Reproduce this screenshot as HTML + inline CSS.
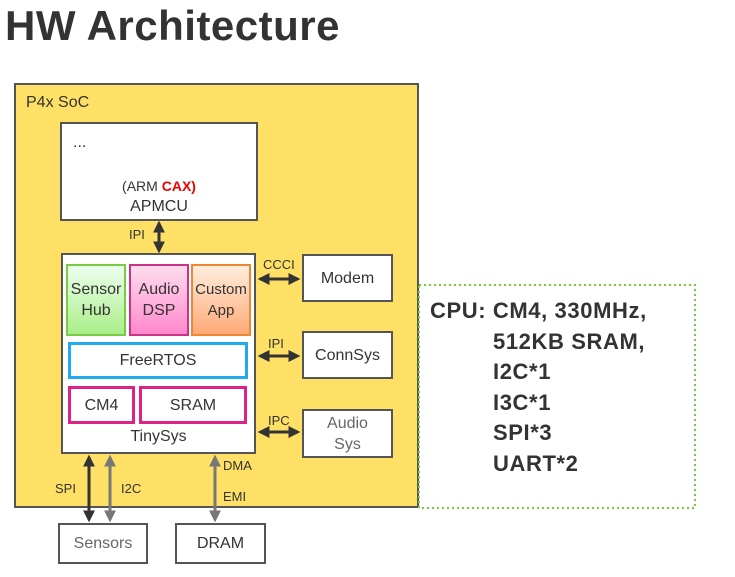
<!DOCTYPE html><html><head><style>
body{margin:0;width:735px;height:577px;background:#fff;position:relative;overflow:hidden;font-family:"Liberation Sans",sans-serif;color:#333}
.a{position:absolute;box-sizing:border-box}
.b{position:absolute;box-sizing:border-box;border:2px solid #555;background:#fff;display:flex;align-items:center;justify-content:center;text-align:center;font-size:16px;line-height:21px}
.t{position:absolute;font-size:13px;color:#333}
</style></head><body>
<div class="a" style="left:5px;top:2px;font-size:42px;font-weight:bold;color:#333;letter-spacing:0.5px">HW Architecture</div>
<div class="a" style="left:14px;top:83px;width:405px;height:425px;background:#FFE066;border:2px solid #555"></div>
<div class="t" style="left:26px;top:94px;font-size:16px">P4x SoC</div>
<div class="b" style="left:60px;top:122px;width:198px;height:99px;display:block">
<div style="position:absolute;left:11px;top:8px">...</div>
<div style="position:absolute;left:0;right:0;top:52px;font-size:14px">(ARM <b style="color:#e00">CAX)</b></div>
<div style="position:absolute;left:0;right:0;top:72px">APMCU</div></div>
<div class="b" style="left:61px;top:253px;width:195px;height:201px;display:block">
<div style="position:absolute;left:0;right:0;bottom:5px">TinySys</div></div>
<div class="b" style="left:66px;top:264px;width:60px;height:72px;border-color:#7c4;background:linear-gradient(#efe,#ae8)">Sensor<br>Hub</div>
<div class="b" style="left:129px;top:264px;width:60px;height:72px;border-color:#c38;background:linear-gradient(#fde,#f8c)">Audio<br>DSP</div>
<div class="b" style="left:191px;top:264px;width:60px;height:72px;border-color:#e83;background:linear-gradient(#fed,#fa7);font-size:15px">Custom<br>App</div>
<div class="b" style="left:68px;top:342px;width:180px;height:37px;border:3px solid #2ae">FreeRTOS</div>
<div class="b" style="left:68px;top:386px;width:67px;height:38px;border:3px solid #d28">CM4</div>
<div class="b" style="left:139px;top:386px;width:108px;height:38px;border:3px solid #d28">SRAM</div>
<div class="b" style="left:302px;top:254px;width:91px;height:48px">Modem</div>
<div class="b" style="left:302px;top:331px;width:91px;height:48px">ConnSys</div>
<div class="b" style="left:302px;top:409px;width:91px;height:49px;color:#666">Audio<br>Sys</div>
<div class="b" style="left:58px;top:523px;width:90px;height:41px;color:#666">Sensors</div>
<div class="b" style="left:175px;top:523px;width:91px;height:41px">DRAM</div>
<svg class="a" style="left:0;top:0" width="735" height="577">
<defs><marker id="m" viewBox="0 0 10 10" refX="8" refY="5" markerWidth="4" markerHeight="4" orient="auto-start-reverse"><path d="M0,0L10,5L0,10z" fill="#333"/></marker>
<marker id="g" viewBox="0 0 10 10" refX="8" refY="5" markerWidth="4" markerHeight="4" orient="auto-start-reverse"><path d="M0,0L10,5L0,10z" fill="#777"/></marker></defs>
<g stroke="#333" stroke-width="3">
<line x1="159" y1="223" x2="159" y2="251" marker-start="url(#m)" marker-end="url(#m)"/>
<line x1="260" y1="279" x2="298" y2="279" marker-start="url(#m)" marker-end="url(#m)"/>
<line x1="260" y1="356" x2="298" y2="356" marker-start="url(#m)" marker-end="url(#m)"/>
<line x1="260" y1="432" x2="298" y2="432" marker-start="url(#m)" marker-end="url(#m)"/>
<line x1="89" y1="457" x2="89" y2="520" marker-start="url(#m)" marker-end="url(#m)"/>
</g>
<g stroke="#777" stroke-width="3">
<line x1="110" y1="457" x2="110" y2="520" marker-start="url(#g)" marker-end="url(#g)"/>
<line x1="215" y1="457" x2="215" y2="520" marker-start="url(#g)" marker-end="url(#g)"/>
</g>
<rect x="419" y="285" width="276" height="223" fill="none" stroke="#7c3" stroke-width="2" stroke-dasharray="2,3"/>
</svg>
<div class="t" style="left:129px;top:227px">IPI</div>
<div class="t" style="left:263px;top:257px">CCCI</div>
<div class="t" style="left:268px;top:336px">IPI</div>
<div class="t" style="left:268px;top:413px">IPC</div>
<div class="t" style="left:55px;top:481px">SPI</div>
<div class="t" style="left:121px;top:481px">I2C</div>
<div class="t" style="left:223px;top:458px">DMA</div>
<div class="t" style="left:223px;top:489px">EMI</div>
<div class="a" style="left:430px;top:296px;font-size:22px;font-weight:bold;line-height:30.5px;color:#333;letter-spacing:0.6px">CPU: CM4, 330MHz,<br><span style="padding-left:63px">512KB SRAM,</span><br><span style="padding-left:63px">I2C*1</span><br><span style="padding-left:63px">I3C*1</span><br><span style="padding-left:63px">SPI*3</span><br><span style="padding-left:63px">UART*2</span></div>
</body></html>
